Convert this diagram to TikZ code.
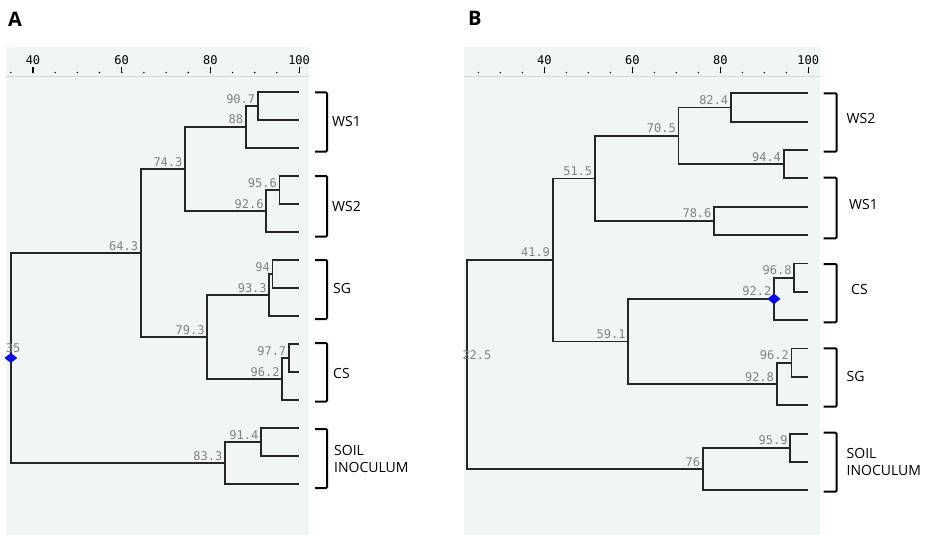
\documentclass[tikz,border=0pt]{standalone}
\usepackage{fontspec}
\setmainfont{Open Sans}
\newfontfamily\pixfont{DejaVu Sans Mono}
\usepackage{tikz}
\usetikzlibrary{shapes.geometric}

\definecolor{panelbg}{RGB}{240,245,245}
\definecolor{rulegray}{RGB}{212,217,217}
\definecolor{valgray}{RGB}{130,130,130}
\definecolor{rootblue}{RGB}{10,10,235}

\begin{document}
\begin{tikzpicture}[x=1pt, y=-1pt,
    branch/.style={line width=1.8pt, black!85},
    bracket/.style={line width=2pt, rounded corners=1pt},
    pix/.style={font=\pixfont\fontsize{12}{13}\selectfont, inner sep=0pt},
    val/.style={pix, text=valgray, anchor=base east, xshift=-2.5pt, yshift=3pt},
    rootval/.style={pix, text=valgray, anchor=base west, xshift=-5pt, yshift=5.5pt},
    axnum/.style={pix, anchor=base},
    group/.style={font=\fontsize{14}{17}\selectfont, inner sep=0pt, anchor=west, align=left},
    panel/.style={font=\bfseries\fontsize{20}{22}\selectfont, inner sep=0pt, anchor=north west},
    root/.style={diamond, fill=rootblue, inner sep=0pt, minimum width=13pt, minimum height=11pt}]

    \useasboundingbox (0,0) rectangle (930,535);

    % Panel backgrounds and the rule under each scale
    \fill[panelbg] (6,47) rectangle (309,535);
    \fill[panelbg] (464,47) rectangle (820,535);
    \draw[rulegray, line width=1.5pt] (6,76.5) -- (309,76.5);
    \draw[rulegray, line width=1.5pt] (464,76.5) -- (820,76.5);

    \node[panel] (labA) at (8,11.5) {A};
    \node[panel] (labB) at (468,11.5) {B};

    %% ---- Panel A ----
    \begin{scope}[x=4.435pt, xshift=-144.4pt]
    % Scale: dots every 5, ticks and numbers every 20
    \foreach \v in {35,40,...,100}
        \fill (\v,72.5) circle (0.8pt);
    \foreach \v in {40,60,80,100} {
        \draw[line width=1.2pt] (\v,67.5) -- (\v,73);
        \node[axnum] (axA\v) at (\v,65) {\v};
    }

    % Leaves, 28 apart
    \foreach \i in {1,...,15}
        \coordinate (a\i) at (100,64+28*\i);

    % Joins (similarity, height)
    \coordinate (a907) at (90.7,106);
    \coordinate (a88)  at (88,127);
    \coordinate (a956) at (95.6,190);
    \coordinate (a926) at (92.6,211);
    \coordinate (a743) at (74.3,169);
    \coordinate (a94)  at (94,274);
    \coordinate (a933) at (93.3,295);
    \coordinate (a977) at (97.7,358);
    \coordinate (a962) at (96.2,379);
    \coordinate (a793) at (79.3,337);
    \coordinate (a643) at (64.3,253);
    \coordinate (a914) at (91.4,442);
    \coordinate (a833) at (83.3,463);
    \coordinate (a35)  at (35,358);

    \draw[branch] (a1) -| (a907) |- (a2);
    \draw[branch] (a907) -| (a88) |- (a3);
    \draw[branch] (a4) -| (a956) |- (a5);
    \draw[branch] (a956) -| (a926) |- (a6);
    \draw[branch] (a88) -| (a743) |- (a926);
    \draw[branch] (a7) -| (a94) |- (a8);
    \draw[branch] (a94) -| (a933) |- (a9);
    \draw[branch] (a10) -| (a977) |- (a11);
    \draw[branch] (a977) -| (a962) |- (a12);
    \draw[branch] (a933) -| (a793) |- (a962);
    \draw[branch] (a743) -| (a643) |- (a793);
    \draw[branch] (a13) -| (a914) |- (a14);
    \draw[branch] (a914) -| (a833) |- (a15);
    \draw[branch] (a643) -| (a35) |- (a833);

    \foreach \n/\t in {a907/90.7, a88/88, a956/95.6, a926/92.6, a743/74.3,
                       a94/94, a933/93.3, a977/97.7, a962/96.2, a793/79.3,
                       a643/64.3, a914/91.4, a833/83.3}
        \node[val] (v\n) at (\n) {\t};

    \node[root, minimum height=10pt] (rootA) at (a35) {};
    \node[rootval] (va35) at (a35) {35};
    \end{scope}

    %% ---- Panel B ----
    \begin{scope}[x=4.4pt, xshift=368.3pt]
    \foreach \v in {25,30,...,100}
        \fill (\v,72.5) circle (0.8pt);
    \foreach \v in {40,60,80,100} {
        \draw[line width=1.2pt] (\v,67.5) -- (\v,73);
        \node[axnum] (axB\v) at (\v,65) {\v};
    }

    \foreach \i in {1,...,15}
        \coordinate (b\i) at (100,64.94+28.36*\i);

    \coordinate (b824) at (82.4,107.5);
    \coordinate (b944) at (94.4,164.2);
    \coordinate (b705) at (70.5,135.9);
    \coordinate (b786) at (78.6,220.9);
    \coordinate (b515) at (51.5,178.4);
    \coordinate (b968) at (96.8,277.7);
    \coordinate (b922) at (92.2,298.9);
    \coordinate (b962) at (96.2,362.7);
    \coordinate (b928) at (92.8,384);
    \coordinate (b591) at (59.1,341.5);
    \coordinate (b419) at (41.9,259.9);
    \coordinate (b959) at (95.9,447.8);
    \coordinate (b76)  at (76,469.1);
    \coordinate (b225) at (22.5,364.5);

    \draw[branch] (b1) -| (b824) |- (b2);
    \draw[branch] (b3) -| (b944) |- (b4);
    \draw[branch] (b824) -| (b705) |- (b944);
    \draw[branch] (b5) -| (b786) |- (b6);
    \draw[branch] (b705) -| (b515) |- (b786);
    \draw[branch] (b7) -| (b968) |- (b8);
    \draw[branch] (b968) -| (b922) |- (b9);
    \draw[branch] (b10) -| (b962) |- (b11);
    \draw[branch] (b962) -| (b928) |- (b12);
    \draw[branch] (b922) -| (b591) |- (b928);
    \draw[branch] (b515) -| (b419) |- (b591);
    \draw[branch] (b13) -| (b959) |- (b14);
    \draw[branch] (b959) -| (b76) |- (b15);
    \draw[branch] (b419) -| (b225) |- (b76);

    \foreach \n/\t in {b824/82.4, b944/94.4, b705/70.5, b786/78.6, b515/51.5,
                       b968/96.8, b922/92.2, b962/96.2, b928/92.8, b591/59.1,
                       b419/41.9, b959/95.9, b76/76}
        \node[val] (v\n) at (\n) {\t};

    \node[root] (rootB) at (b922) {};
    \node[rootval] (vb225) at (b225) {22.5};
    \end{scope}

    % Group brackets
    \foreach \ya/\yb in {92.5/151.5, 176/236.5, 260/319, 343/401.5, 429/488}
        \draw[bracket] (315,\ya) -- (327,\ya) -- (327,\yb) -- (315,\yb);
    \foreach \ya/\yb in {93.3/151.7, 177.7/238.3, 264/322.3, 348.3/406.7, 432.7/491.7}
        \draw[bracket] (823.5,\ya) -- (836.5,\ya) -- (836.5,\yb) -- (823.5,\yb);

    \node[group] (gA1) at (332,121) {WS1};
    \node[group] (gA2) at (332,206.5) {WS2};
    \node[group] (gA3) at (333,288) {SG};
    \node[group] (gA4) at (333,373) {CS};
    \node[group] (gA5) at (334,458.5) {SOIL\\INOCULUM};

    \node[group] (gB1) at (846.5,118.5) {WS2};
    \node[group] (gB2) at (849,204) {WS1};
    \node[group] (gB3) at (851,289) {CS};
    \node[group] (gB4) at (846.5,376) {SG};
    \node[group] (gB5) at (846.5,461.5) {SOIL\\INOCULUM};
\end{tikzpicture}
\end{document}
